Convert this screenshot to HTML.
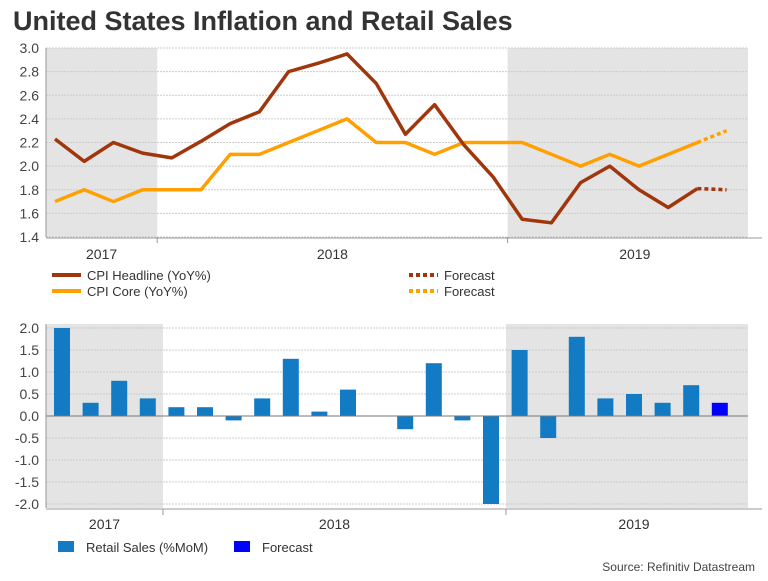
<!DOCTYPE html>
<html><head><meta charset="utf-8"><style>
body{margin:0;background:#fff;width:768px;height:576px;overflow:hidden;font-family:"Liberation Sans",sans-serif}
svg text{font-family:"Liberation Sans",sans-serif}
</style></head><body>
<svg id="c" width="768" height="576" xmlns="http://www.w3.org/2000/svg">
<text x="13" y="30" font-size="27" font-weight="bold" fill="#333">United States Inflation and Retail Sales</text>
<text x="755" y="571" font-size="12" fill="#444" text-anchor="end">Source: Refinitiv Datastream</text>
</svg>
<script>
const headline=[2.23,2.04,2.2,2.11,2.07,2.21,2.36,2.46,2.8,2.87,2.95,2.7,2.27,2.52,2.18,1.91,1.55,1.52,1.86,2.0,1.8,1.65,1.81];
const headlineForecast=[1.81,1.80];
const core=[1.7,1.8,1.7,1.8,1.8,1.8,2.1,2.1,2.2,2.3,2.4,2.2,2.2,2.1,2.2,2.2,2.2,2.1,2.0,2.1,2.0,2.1,2.2];
const coreForecast=[2.2,2.3];
const sales=[2.0,0.3,0.8,0.4,0.2,0.2,-0.1,0.4,1.3,0.1,0.6,0.0,-0.3,1.2,-0.1,-2.0,1.5,-0.5,1.8,0.4,0.5,0.3,0.7];
const salesForecast=[0.3];
const topTicks=[1.4,1.6,1.8,2.0,2.2,2.4,2.6,2.8,3.0];
const botTicks=[-2.0,-1.5,-1.0,-0.5,0.0,0.5,1.0,1.5,2.0];
const years=["2017","2018","2019"];

const svg=document.getElementById('c');
const NS="http://www.w3.org/2000/svg";
function mk(t,a,p){const e=document.createElementNS(NS,t);for(const k in a)e.setAttribute(k,a[k]);(p||svg).appendChild(e);return e;}
const L=46,R=748;
const tx=i=>55+i*29.2, ty=v=>237-(v-1.4)/1.6*189;
let g=mk('g',{});

mk('rect',{x:L,y:ty(3.0),width:tx(3.5)-L,height:ty(1.4)-ty(3.0),fill:'#e4e4e4'},g);
let g2=mk('g',{});

mk('rect',{x:tx(15.5),y:ty(3.0),width:R-tx(15.5),height:ty(1.4)-ty(3.0),fill:'#e4e4e4'},g2);
topTicks.forEach(v=>{
 const l=mk('line',{x1:L,x2:R,y1:ty(v),y2:ty(v),stroke:'#ccc','stroke-dasharray':'2,1','stroke-width':1});
 
 const t=mk('text',{x:L-7,y:ty(v)+5,'font-size':14,fill:'#444','text-anchor':'end'});t.textContent=v.toFixed(1);
 
});
mk('line',{x1:L,x2:L,y1:ty(3.0),y2:ty(1.4),stroke:'#999'});
const ta=mk('line',{x1:L,x2:R+14,y1:ty(1.4)+1,y2:ty(1.4)+1,stroke:'#999'});

[3.5,15.5].forEach(i=>mk('line',{x1:tx(i),x2:tx(i),y1:ty(1.4),y2:ty(1.4)+6,stroke:'#999'}));
[[L,tx(3.5)],[tx(3.5),tx(15.5)],[tx(15.5),R+14]].forEach((r,k)=>{
 const t=mk('text',{x:(r[0]+r[1])/2,y:259,'font-size':14,fill:'#333','text-anchor':'middle'});t.textContent=years[k];
 
});
function line(arr,off,col,dash,name){
 const d=arr.map((v,i)=>(i?'L':'M')+tx(i+off)+','+ty(v)).join('');
 const p=mk('path',{d,fill:'none',stroke:col,'stroke-width':3.5,'stroke-linejoin':'round'});
 if(dash)p.setAttribute('stroke-dasharray',dash);
 
}
line(core,0,'#ffa000',null,'cpi-core-line');
line(headline,0,'#a0360c',null,'cpi-headline-line');
line(coreForecast,22,'#ffa000','4,3','cpi-core-forecast');
line(headlineForecast,22,'#a0360c','4,3','cpi-headline-forecast');
function leg(x,y,col,dash,label,name){
 const g=mk('g',{});
 const l=mk('line',{x1:x,x2:x+29,y1:y,y2:y,stroke:col,'stroke-width':4},g);if(dash)l.setAttribute('stroke-dasharray',dash);
 const t=mk('text',{x:x+35,y:y+5,'font-size':13,fill:'#333'},g);t.textContent=label;
}
leg(52,275,'#a0360c',null,'CPI Headline (YoY%)','legend-cpi-headline');
leg(52,291,'#ffa000',null,'CPI Core (YoY%)','legend-cpi-core');
leg(409,275,'#a0360c','4,3','Forecast','legend-headline-forecast');
leg(409,291,'#ffa000','4,3','Forecast','legend-core-forecast');
const bx=i=>62+i*28.6, by=v=>416-v*44;
const s1=mk('rect',{x:L,y:324,width:163-L,height:by(-2)+4-324,fill:'#e4e4e4'});

const s2=mk('rect',{x:506,y:324,width:R-506,height:by(-2)+4-324,fill:'#e4e4e4'});

botTicks.forEach(v=>{
 const l=mk('line',{x1:L,x2:R,y1:by(v),y2:by(v),stroke:'#ccc','stroke-dasharray':'2,1'});
 
 const t=mk('text',{x:L-7,y:by(v)+5,'font-size':14,fill:'#444','text-anchor':'end'});t.textContent=v.toFixed(1);
 
});
mk('line',{x1:L,x2:L,y1:324,y2:by(-2)+4,stroke:'#999'});
const ba=mk('line',{x1:L,x2:R+14,y1:by(-2)+5,y2:by(-2)+5,stroke:'#999'});

[163,506].forEach(x=>mk('line',{x1:x,x2:x,y1:by(-2)+5,y2:by(-2)+11,stroke:'#999'}));
[[L,163],[163,506],[506,R+14]].forEach((r,k)=>{
 const t=mk('text',{x:(r[0]+r[1])/2,y:529,'font-size':14,fill:'#333','text-anchor':'middle'});t.textContent=years[k];
 
});
function bar(v,i,col,name){
 const y=Math.min(by(v),by(0)),h=Math.max(Math.abs(by(v)-by(0)),0.5);
 const r=mk('rect',{x:bx(i)-8,y,width:16,height:h,fill:col});
 
}
sales.forEach((v,i)=>bar(v,i,'#127bc4','retail-sales-bar'));
salesForecast.forEach((v,i)=>bar(v,sales.length+i,'#0000ff','retail-sales-forecast-bar'));
mk('line',{x1:L,x2:R,y1:by(0),y2:by(0),stroke:'#777'});
function sq(x,col,label,name){
 const g=mk('g',{});
 mk('rect',{x,y:541,width:16,height:11,fill:col},g);
 const t=mk('text',{x:x+28,y:552,'font-size':13,fill:'#333'},g);t.textContent=label;
}
sq(58,'#127bc4','Retail Sales (%MoM)','legend-retail-sales');
sq(234,'#0000ff','Forecast','legend-sales-forecast');
</script>
</body></html>
